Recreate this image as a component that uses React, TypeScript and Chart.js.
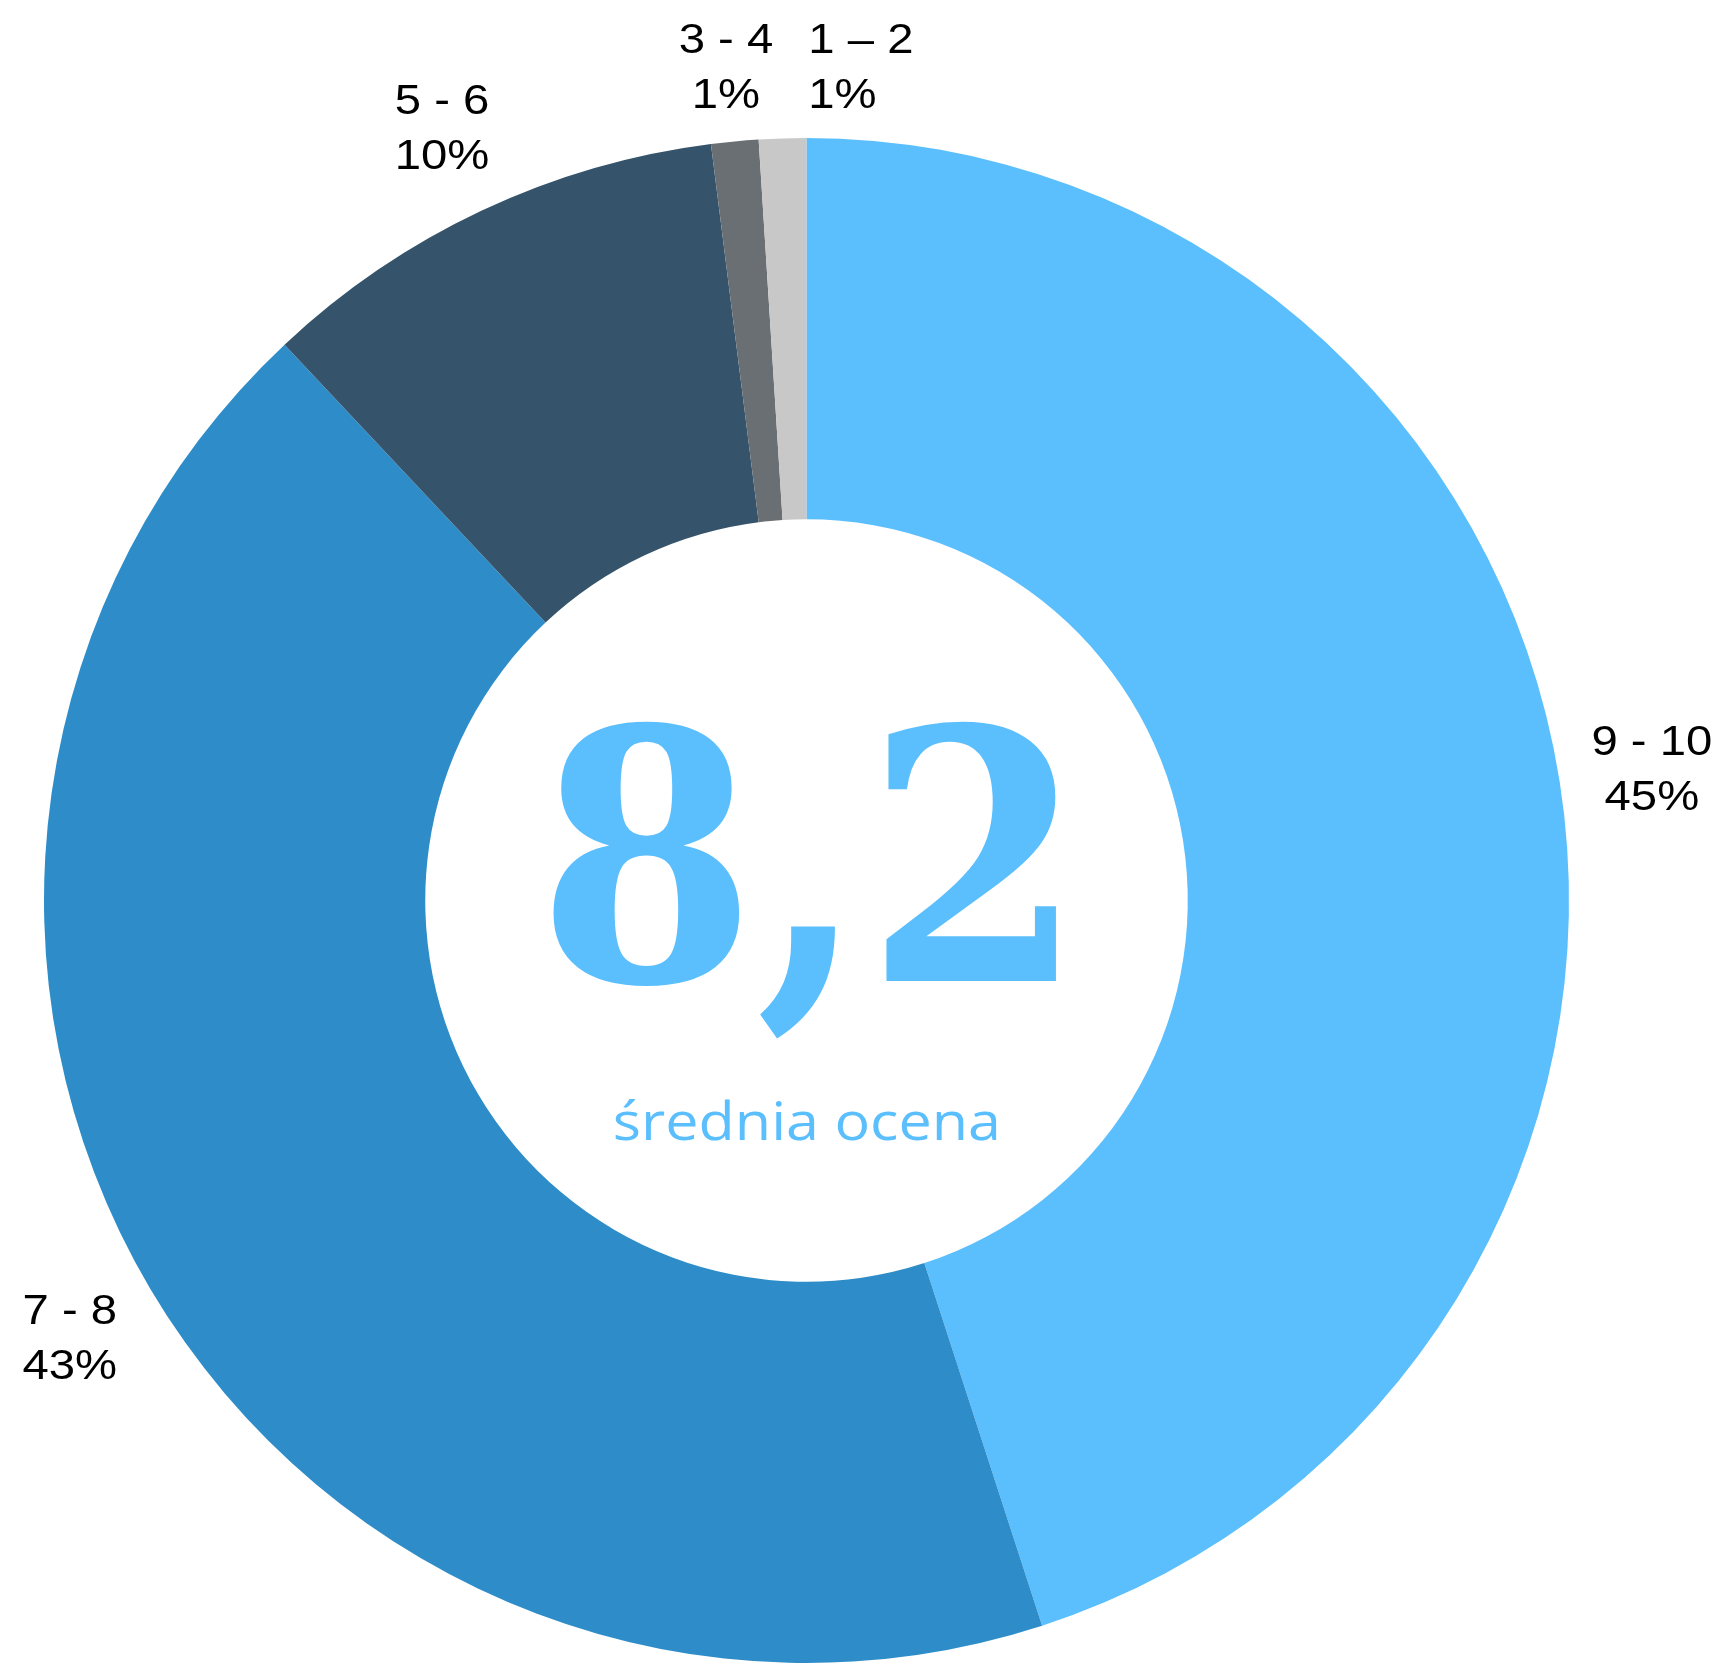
import React, { useEffect, useRef } from "react";
import { Chart, registerables } from "chart.js";

Chart.register(...registerables);

// ---- data ----
const categories = ["9 - 10", "7 - 8", "5 - 6", "3 - 4", "1 – 2"];
const shares = [45, 43, 10, 1, 1];
const colors = ["#5BBFFE", "#2E8DC8", "#35546B", "#6A6F73", "#C8C8C8"];
const averageScore = "8,2";
const averageLabel = "średnia ocena";

const W = 1722;
const H = 1664;

const LABEL_FONT_SIZE = 43;
const LABEL_SCALE_X = 1.1;
const LABEL_LINE_H = 55;

const outerLabelsPlugin = {
  id: "outerLabels",
  afterDatasetsDraw(chart: any) {
    const ctx: CanvasRenderingContext2D = chart.ctx;
    const meta = chart.getDatasetMeta(0);
    const capH = LABEL_FONT_SIZE * 0.716;
    const halfH = LABEL_LINE_H / 2 + capH / 2;
    ctx.save();
    ctx.font = `${LABEL_FONT_SIZE}px 'Liberation Sans', Arial, sans-serif`;
    const boxes: any[] = meta.data.map((arc: any, i: number) => {
      const p = arc.getProps(["x", "y", "startAngle", "endAngle", "outerRadius"], true);
      const mid = (p.startAngle + p.endAngle) / 2;
      const r = p.outerRadius * 1.1225;
      const lines = [categories[i], shares[i] + "%"];
      const w = Math.max(...lines.map((l) => ctx.measureText(l).width)) * LABEL_SCALE_X;
      let cx = p.x + Math.cos(mid) * r;
      let cy = p.y + Math.sin(mid) * r;
      cy = Math.max(cy, 22 + halfH);
      cx = Math.min(Math.max(cx, w / 2 + 4), chart.width - w / 2 - 4);
      return { left: cx - w / 2, cx, cy, w, lines, align: "center" };
    });
    const gap = 35;
    for (let j = 1; j < boxes.length; j++) {
      for (let i = 0; i < j; i++) {
        const a = boxes[i];
        const b = boxes[j];
        const overlapY = Math.abs(a.cy - b.cy) < 2 * halfH;
        const overlapX = b.left < a.left + a.w + gap && b.left + b.w + gap > a.left;
        if (overlapY && overlapX && b.cx >= a.cx) {
          b.left = a.left + a.w + gap;
          b.align = "left";
        }
      }
    }
    ctx.fillStyle = "#000000";
    ctx.textBaseline = "alphabetic";
    boxes.forEach((b: any) => {
      const ys = [b.cy - LABEL_LINE_H / 2 + capH / 2, b.cy + LABEL_LINE_H / 2 + capH / 2];
      b.lines.forEach((line: string, k: number) => {
        ctx.save();
        if (b.align === "left") {
          ctx.textAlign = "left";
          ctx.translate(b.left, ys[k]);
        } else {
          ctx.textAlign = "center";
          ctx.translate(b.left + b.w / 2, ys[k]);
        }
        ctx.scale(LABEL_SCALE_X, 1);
        ctx.fillText(line, 0, 0);
        ctx.restore();
      });
    });
    ctx.restore();
  },
};

const centerTextPlugin = {
  id: "centerText",
  afterDatasetsDraw(chart: any) {
    const arc = chart.getDatasetMeta(0).data[0];
    const p = arc.getProps(["x", "y", "innerRadius"], true);
    const ir = p.innerRadius;
    const ctx: CanvasRenderingContext2D = chart.ctx;

    // big score
    ctx.save();
    ctx.fillStyle = colors[0];
    ctx.textAlign = "left";
    ctx.textBaseline = "alphabetic";
    ctx.font = "bold 300px 'DejaVu Serif', serif";
    const m = ctx.measureText(averageScore);
    const inkW = m.actualBoundingBoxLeft + m.actualBoundingBoxRight;
    const sx = (ir * 1.3246) / inkW;
    const sy = (ir * 0.687) / m.actualBoundingBoxAscent;
    ctx.translate(p.x - ir * 0.6675, p.y + ir * 0.211);
    ctx.scale(sx, sy);
    ctx.fillText(averageScore, m.actualBoundingBoxLeft, 0);
    ctx.restore();

    // caption
    ctx.save();
    ctx.fillStyle = colors[0];
    ctx.textAlign = "left";
    ctx.textBaseline = "alphabetic";
    const size = ir * 0.137;
    ctx.font = `${size}px 'Open Sans', sans-serif`;
    const m1 = ctx.measureText(averageLabel);
    const w1 = m1.actualBoundingBoxLeft + m1.actualBoundingBoxRight;
    const csx = (ir * 1.0) / w1;
    ctx.translate(p.x - ir * 0.502, p.y + ir * 0.628);
    ctx.scale(csx, 1);
    ctx.fillText(averageLabel, m1.actualBoundingBoxLeft, 0);
    ctx.restore();
  },
};

export default function App() {
  const canvasRef = useRef<HTMLCanvasElement | null>(null);

  useEffect(() => {
    if (!canvasRef.current) return;
    const chart = new Chart(canvasRef.current, {
      type: "doughnut",
      data: {
        labels: categories,
        datasets: [
          {
            data: shares,
            backgroundColor: colors,
            borderWidth: 0,
          },
        ],
      },
      options: {
        responsive: false,
        animation: false,
        devicePixelRatio: 1,
        cutout: "50%",
        events: [],
        layout: { padding: { left: 44, right: 153, top: 138, bottom: 1 } },
        plugins: {
          legend: { display: false },
          tooltip: { enabled: false },
        },
      },
      plugins: [outerLabelsPlugin, centerTextPlugin],
    } as any);
    return () => chart.destroy();
  }, []);

  return (
    <div style={{ position: "absolute", left: 0, top: 0, width: W, height: H, background: "#ffffff" }}>
      <canvas ref={canvasRef} width={W} height={H} style={{ display: "block" }} />
    </div>
  );
}
